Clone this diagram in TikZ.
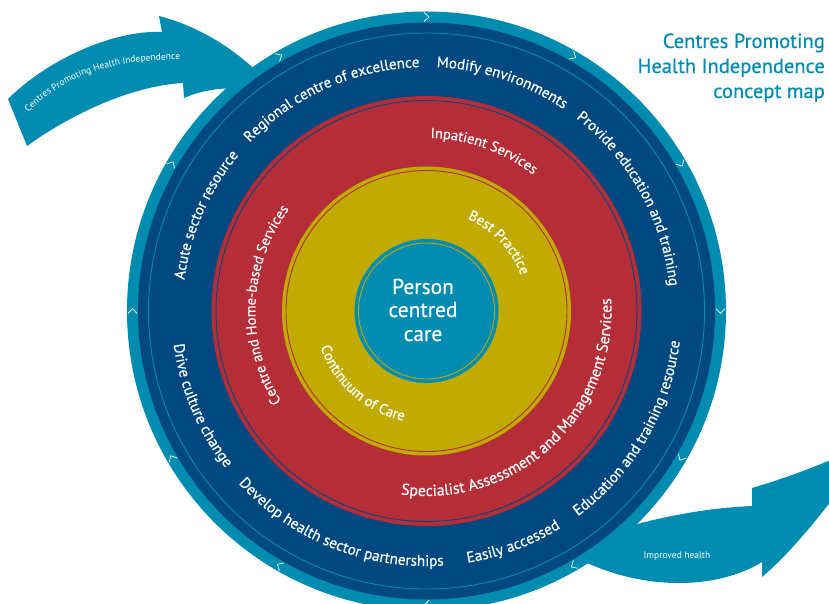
\documentclass[tikz,border=0pt]{standalone}
\usepackage{fontspec}
\setmainfont{PT Sans}
\setsansfont{PT Sans}
\newfontfamily\medfam{PT Sans}[FakeBold=0.45]
\usetikzlibrary{decorations.text,calc}
\definecolor{cteal}{RGB}{0,139,176}
\definecolor{cblue}{RGB}{0,72,128}
\definecolor{cred}{RGB}{181,45,54}
\definecolor{cyel}{RGB}{193,171,0}
\newcommand{\cwlabel}[4][15]{%
  \path[decorate,decoration={text along path,text align=center,text color=white,
    text={|\medfam\fontsize{#1}{#1}\selectfont|#4}}]
    ($(C)+(#2+85:#3pt)$) arc[start angle=#2+85,end angle=#2-85,radius=#3pt];}
\newcommand{\ccwlabel}[4][15]{%
  \path[decorate,decoration={text along path,text align=center,text color=white,
    text={|\medfam\fontsize{#1}{#1}\selectfont|#4}}]
    ($(C)+(#2-85:#3pt)$) arc[start angle=#2-85,end angle=#2+85,radius=#3pt];}
\tikzset{
  chev/.style={white, line width=0.7pt},
  thinline/.style={line width=0.9pt},
  titletext/.style={text=cteal, anchor=base east, inner sep=0pt, font=\medfam\fontsize{20.5}{20.5}\selectfont},
  arrowtext/.style={text=white, inner sep=0pt, font=\fontsize{9.5}{9.5}\selectfont},
  centretext/.style={text=white, anchor=base, inner sep=0pt, font=\medfam\fontsize{21.5}{21.5}\selectfont}
}
\begin{document}
\begin{tikzpicture}[x=1pt,y=1pt]
\useasboundingbox (0,0) rectangle (829,603);
\clip (0,0) rectangle (829,603);
\coordinate (C) at (426.5,292);

% top-left arrow
\fill[cteal] (8,504) .. controls (45,541) and (110,573) .. (162,571)
  -- (159,587) .. controls (205,575) and (245,548) .. (280,508)
  .. controls (250,518) and (210,517) .. (184,505)
  -- (183,520) .. controls (130,517) and (70,488) .. (27,457) -- cycle;
\path[decorate,decoration={text along path,text align=center,text color=white,
  text={|\fontsize{9.5}{9.5}\selectfont|Centres Promoting Health Independence}}]
  (25,487) .. controls (60,525) and (110,545) .. (185,543);

% bottom-right arrow
\fill[cteal] (590,65) .. controls (660,88) and (710,95) .. (752,97)
  -- (752,115) .. controls (790,126) and (840,145) .. (878,165)
  .. controls (840,113) and (800,58) .. (762,26)
  -- (762,41) .. controls (720,15) and (650,11) .. (585,41)
  -- (570,53) -- cycle;
\node[arrowtext, anchor=base] (imp) at (677,45) {Improved health};

% rings
\fill[cteal] (C) circle[radius=299.5];
\fill[cblue] (C) circle[radius=288.5];
\draw[cteal, thinline] (C) circle[radius=278];
\fill[cred] (C) circle[radius=215];
\draw[cblue, thinline] (C) circle[radius=210.5];
\fill[cyel] (C) circle[radius=144.5];
\draw[cred, thinline] (C) circle[radius=140.5];
\fill[cteal] (C) circle[radius=72];
\draw[cyel, thinline] (C) circle[radius=68];

% chevrons
\foreach \a in {0,30,...,330}
  \draw[chev, shift={(C)}, rotate=\a] (289.5,2.5) -- (294,-2.5) -- (298.5,2.5);

% outer ring labels
\cwlabel{156.5}{244}{Acute sector resource}
\cwlabel{114}{244}{Regional centre of excellence}
\cwlabel{71.7}{244}{Modify environments}
\cwlabel{29}{244}{Provide education and training}
\ccwlabel[15.3]{329.8}{255}{Education and training resource}
\ccwlabel[15.3]{290.5}{255}{Easily accessed}
\ccwlabel[15.3]{248.2}{255}{Develop health sector partnerships}
\ccwlabel[15.3]{202.8}{255}{Drive culture change}

% red ring labels
\cwlabel[14.5]{70.3}{173}{Inpatient Services}
\cwlabel[14.5]{177.7}{171}{Centre and Home-based Services}
\ccwlabel[15.8]{313}{185}{Specialist Assessment and Management Services}

% yellow ring labels
\cwlabel[14.5]{43.3}{101}{Best Practice}
\ccwlabel[14.5]{228.5}{112}{Continuum of Care}

% centre
\node[centretext] (p1) at (423,309) {Person};
\node[centretext] (p2) at (423,286) {centred};
\node[centretext] (p3) at (423,262) {care};

% title
\node[titletext] (t1) at (825,555) {Centres Promoting};
\node[titletext] (t2) at (825,530) {Health Independence};
\node[titletext] (t3) at (825,505) {concept map};
\end{tikzpicture}
\end{document}
